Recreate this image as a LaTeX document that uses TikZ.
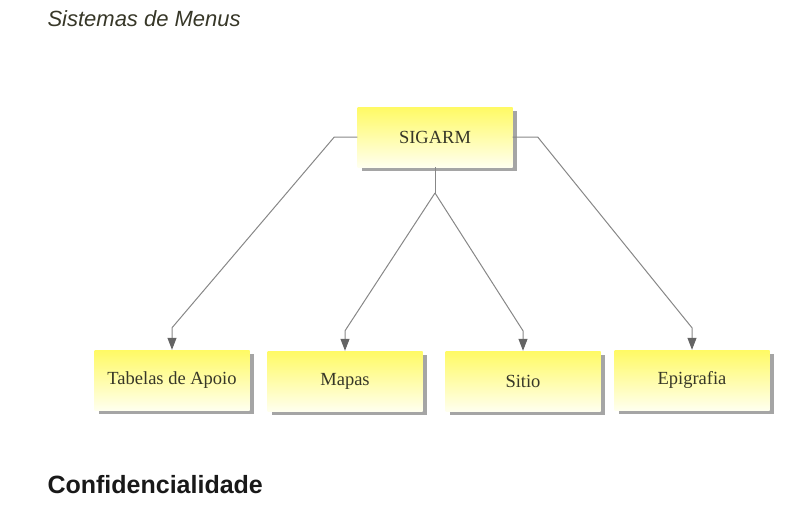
\documentclass[tikz,border=0pt]{standalone}
\usepackage{fontspec}
\setmainfont{Liberation Serif}
\newfontfamily\sansfont{Liberation Sans}
\usetikzlibrary{arrows.meta,shadows}
\definecolor{boxtop}{RGB}{255,250,100}
\definecolor{boxbot}{RGB}{255,255,238}
\definecolor{linegray}{RGB}{135,135,135}
\definecolor{tipgray}{RGB}{100,100,100}
\definecolor{shadowgray}{RGB}{165,165,165}
\definecolor{textdark}{RGB}{55,55,40}
\tikzset{
	menu/.style={minimum width=155pt, minimum height=60pt, inner sep=0pt,
		top color=boxtop, bottom color=boxbot, text=textdark,
		font=\fontsize{18.5}{20}\selectfont,
		drop shadow={shadow xshift=4pt, shadow yshift=-4pt, fill=shadowgray, opacity=1}},
	link/.style={draw=linegray, line width=1pt, -{Triangle[length=12pt,width=9pt,color=tipgray]}}
}
\begin{document}
\begin{tikzpicture}[x=1pt, y=-1pt]
	\useasboundingbox (0,0) rectangle (800,517);
	\node [anchor=west, text=textdark, font=\sansfont\itshape\fontsize{22}{24}\selectfont] (title) at (44,19) {Sistemas de Menus};
	\node [menu] (sig) at (435,137) {SIGARM};
	\foreach \n/\x/\y/\t in {tab/172/380/Tabelas de Apoio, map/345/381/Mapas, sit/523/381/Sitio, epi/692/380/Epigrafia}
	{
		\node [menu] (\n) at (\x,\y) {\t};
	}
	\coordinate (fork) at (435,193);
	\draw [link] (sig.west) -- ++(-23,0) -- ([yshift=22pt]tab.north) -- (tab.north);
	\draw [link] (sig.east) -- ++(25,0) -- ([yshift=22pt]epi.north) -- (epi.north);
	\draw [draw=linegray, line width=1pt] (sig.south) -- (fork);
	\foreach \n in {map,sit}
	{
		\draw [link] (fork) -- ([yshift=20pt]\n.north) -- (\n.north);
	}
	\node [anchor=west, text=black!90, font=\sansfont\bfseries\fontsize{25}{28}\selectfont] (conf) at (44,485) {Confidencialidade};
\end{tikzpicture}
\end{document}
